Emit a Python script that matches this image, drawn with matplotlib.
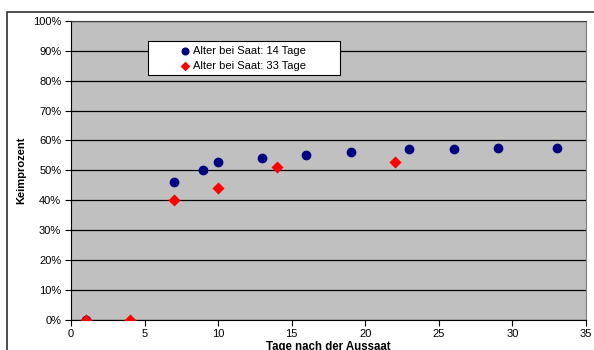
import matplotlib
matplotlib.use('Agg')
import matplotlib.pyplot as plt
from matplotlib.patches import Rectangle
from matplotlib.ticker import PercentFormatter

plt.rcParams['font.family'] = ['Liberation Sans', 'DejaVu Sans']

# Keimprozent nach Tagen, zwei Saat-Alter
tage_14 = [1, 7, 9, 10, 13, 16, 19, 23, 26, 29, 33]
keim_14 = [0, 46, 50, 52.7, 54.2, 55, 56.1, 57, 57, 57.6, 57.6]
tage_33 = [1, 4, 7, 10, 14, 22]
keim_33 = [0, 0, 40, 44, 51, 52.8]

fig = plt.figure(figsize=(5.94, 3.5), dpi=100)
ax = fig.add_axes([71/594, 1 - 319.5/350, 515/594, 298.5/350])
ax.set_facecolor('#c0c0c0')

ax.scatter(tage_14, keim_14, s=36, marker='o', color='#000080', zorder=3,
           label='Alter bei Saat: 14 Tage')
ax.scatter(tage_33, keim_33, s=38, marker='D', color='#ff0000', zorder=4,
           linewidths=0, label='Alter bei Saat: 33 Tage')

ax.set_xlim(0, 35)
ax.set_ylim(0, 100)
ax.set_xticks(range(0, 36, 5))
ax.set_yticks(range(0, 101, 10))
ax.yaxis.set_major_formatter(PercentFormatter(decimals=0))
ax.tick_params(direction='out', length=4, width=0.8, labelsize=8, pad=3)
ax.grid(axis='y', color='black', linewidth=0.9)
ax.set_axisbelow(True)

for side in ['left', 'bottom']:
    ax.spines[side].set_color('black')
    ax.spines[side].set_linewidth(0.8)
ax.spines['top'].set_color('#404040')
ax.spines['right'].set_color('#808080')

ax.set_xlabel('Tage nach der Aussaat', fontsize=8.3, fontweight='bold', labelpad=1)
ax.set_ylabel('Keimprozent', fontsize=8, fontweight='bold', labelpad=4.5)

# Legendenkasten mit eigenem Rahmen
ax.add_patch(Rectangle((0.1495, 0.819), 0.3725, 0.114, transform=ax.transAxes,
                       facecolor='white', edgecolor='black', linewidth=0.8, zorder=5))
leg = ax.legend(loc='center', bbox_to_anchor=(0.334, 0.876),
                bbox_transform=ax.transAxes, fontsize=8, frameon=False,
                handletextpad=0.3, handlelength=0.8, labelspacing=0.45,
                markerscale=0.8, borderaxespad=0)
leg.set_zorder(6)

# Rahmen um das ganze Diagramm
fig.patches.append(Rectangle((7/594, -0.1), 1.1, 1 - 12/350 + 0.1,
                             transform=fig.transFigure, fill=False,
                             edgecolor='#303030', linewidth=1.2))

fig.savefig('out.png', dpi=100)
